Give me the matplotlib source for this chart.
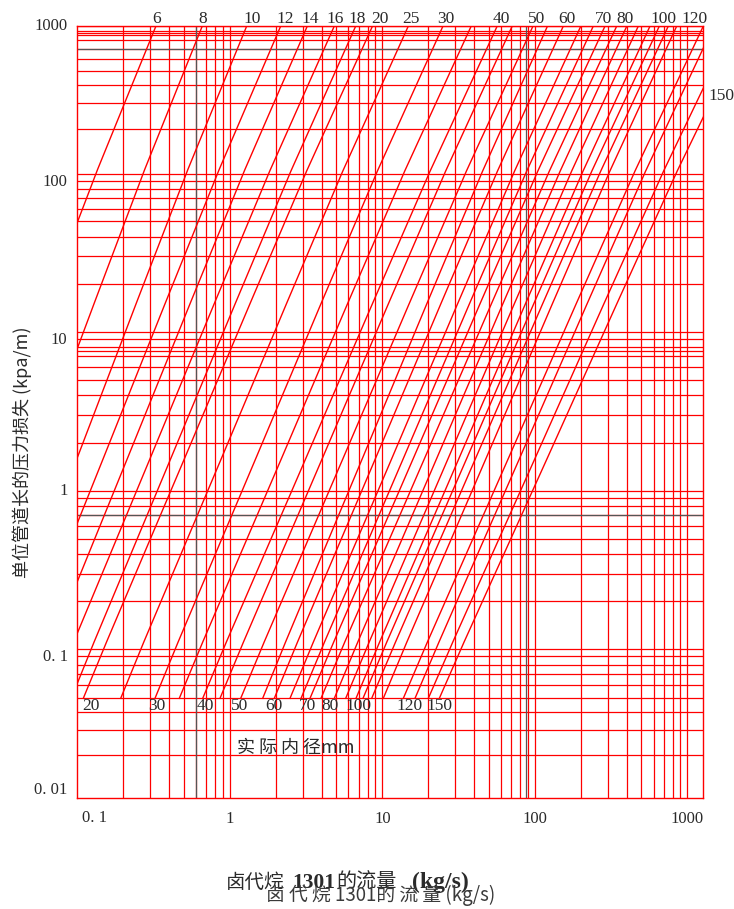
import numpy as np
import matplotlib
matplotlib.use("Agg")
import matplotlib.pyplot as plt

# ---- chart data -------------------------------------------------------------
# each pipe line runs from 0.05 kPa/m up to 1000 kPa/m (clipped by the frame);
# flow (kg/s) of every line at those two pressure-loss levels
flow_at_floor = [0.00656, 0.01394, 0.02506, 0.03497, 0.04935, 0.06714, 0.09127,
                 0.1095, 0.1926, 0.3232, 0.4665, 0.6643, 0.8625, 1.179, 1.643,
                 1.958, 2.482, 2.931, 3.357, 3.963, 4.844, 5.754, 6.723, 7.470,
                 8.520, 10.15, 13.73, 16.38, 20.03, 23.65]
flow_at_top = [0.328, 0.660, 1.291, 2.157, 3.223, 4.844, 6.693,
               8.625, 14.81, 25.00, 38.28, 56.67, 71.10, 97.3, 121.1,
               153.8, 200.3, 241.8, 288.6, 344.4, 401.1, 477.1, 569.3, 655.3,
               750.5, 852.0, 1273, 1488, 1993, 2475]
loss_floor, loss_top = 0.05, 1000.0

top_labels = ["6", "8", "10", "12", "14", "16", "18", "20", "25", "30",
              "40", "50", "60", "70", "80", "100", "120"]
bottom_labels = ["20", "30", "40", "50", "60", "70", "80", "100", "120", "150"]

x_ticks = [0.1, 1, 10, 100, 1000]
x_tick_labels = ["0. 1", "1", "10", "100", "1000"]
y_ticks = [1000, 100, 10, 1, 0.1, 0.01]
y_tick_labels = ["1000", "100", "10", "1", "0. 1", "0. 01"]

x_rules = ([m * 0.1 for m in range(2, 10)] + list(range(1, 10)) +
           list(range(10, 100, 10)) + list(range(100, 1001, 100)))
y_rules = ([m * 0.01 for m in range(2, 10)] + [m * 0.1 for m in range(1, 10)] +
           list(range(1, 10)) + list(range(10, 100, 10)) +
           list(range(100, 1001, 100)) + [7.6, 930, 870])
x_dark_rules = [0.6, 88]
y_dark_rules = [700, 0.7]

# ---- uneven decade spacing of the printed pressure scale -----------------
_dec_log = np.log10([0.01, 0.05, 0.1, 1, 10, 100, 1000])
_dec_pos = np.array([0.0, 100.0, 149.3, 307.3, 466.6, 624.3, 772.3])


def _extrap(v, xp, fp):
    v = np.asarray(v, dtype=float)
    out = np.interp(v, xp, fp)
    lo_s = (fp[1] - fp[0]) / (xp[1] - xp[0])
    hi_s = (fp[-1] - fp[-2]) / (xp[-1] - xp[-2])
    out = np.where(v < xp[0], fp[0] + (v - xp[0]) * lo_s, out)
    out = np.where(v > xp[-1], fp[-1] + (v - xp[-1]) * hi_s, out)
    return out


def _fwd(v):
    v = np.asarray(v, dtype=float)
    with np.errstate(divide="ignore", invalid="ignore"):
        lv = np.log10(np.where(v > 0, v, np.nan))
    return _extrap(lv, _dec_log, _dec_pos)


def _inv(p):
    return 10 ** _extrap(p, _dec_pos, _dec_log)


# ---- figure -----------------------------------------------------------------
RED = "#ff0000"
INK = "#2a2a2a"
SERIF = ["Liberation Serif", "DejaVu Serif"]
CJK = ["Noto Sans CJK SC", "DejaVu Sans"]
W, H = 734, 909

fig = plt.figure(figsize=(W / 100, H / 100), dpi=100)
ax = fig.add_axes([77.3 / W, 1 - 798.3 / H, (703.3 - 77.3) / W, (798.3 - 26) / H])
ax.set_xscale("log")
ax.set_yscale("function", functions=(_fwd, _inv))
ax.set_xlim(0.1, 1272)
ax.set_ylim(0.01, 1000)

for v in x_rules:
    ax.axvline(v, color=RED, lw=0.9, zorder=1)
for v in y_rules:
    ax.axhline(v, color=RED, lw=0.9, zorder=1)
for v in x_dark_rules:
    ax.axvline(v, color="#555555", lw=0.9, zorder=1.5)
for v in y_dark_rules:
    ax.axhline(v, color="#555555", lw=0.9, zorder=1.5)

for q_lo, q_hi in zip(flow_at_floor, flow_at_top):
    n = np.log(loss_top / loss_floor) / np.log(q_hi / q_lo)
    q = np.logspace(np.log10(q_lo), np.log10(q_hi), 400)
    dp = loss_floor * (q / q_lo) ** n
    ax.plot(q, dp, color=RED, lw=1.0, zorder=2)

for s in ax.spines.values():
    s.set_color(RED)
    s.set_linewidth(1.0)

ax.set_xticks(x_ticks[1:])
ax.set_xticklabels(x_tick_labels[1:], fontfamily=SERIF, fontsize=12, color=INK)
ax.set_yticks(y_ticks)
ax.set_yticklabels(y_tick_labels, fontfamily=SERIF, fontsize=12, color=INK)
ax.tick_params(axis="x", length=0, pad=9)
ax.tick_params(axis="y", length=0, pad=7)
ax.xaxis.set_minor_locator(matplotlib.ticker.NullLocator())
ax.yaxis.set_minor_locator(matplotlib.ticker.NullLocator())

for lab, va in zip(ax.get_yticklabels(), ["center", "top", "top", "center", "top", "bottom"]):
    lab.set_va(va)

# first flow label sits just inside the left edge
ax.annotate(x_tick_labels[0], xy=(x_ticks[0], 0), xycoords=ax.get_xaxis_transform(),
            xytext=(5, -12), textcoords="offset pixels", ha="left", va="top",
            fontfamily=SERIF, fontsize=12, color=INK, annotation_clip=False)

# diameter labels
top_x = [157, 203, 252, 285, 310, 335, 357, 380, 411, 446, 501, 537, 567, 603, 625, 663, 695]
for lab, px in zip(top_labels, top_x):
    fig.text(px / W, 1 - 19 / H, lab, ha="center", va="center",
             fontfamily=SERIF, fontsize=12.5, color=INK)
fig.text(721 / W, 1 - 96 / H, "150", ha="center", va="center",
         fontfamily=SERIF, fontsize=12.5, color=INK)
bot_x = [91, 157, 205, 240, 274, 307, 330, 358, 410, 439]
for lab, px in zip(bottom_labels, bot_x):
    fig.text(px / W, 1 - 706 / H, lab, ha="center", va="center",
             fontfamily=SERIF, fontsize=12.5, color=INK)

fig.text(296 / W, 1 - 748 / H, "实 际 内 径mm", ha="center", va="center",
         fontfamily=CJK, fontsize=13, color=INK)

fig.text(22 / W, 1 - 452 / H, "单位管道长的压力损失 (kpa/m)", rotation=90,
         ha="center", va="center", fontfamily=CJK, fontsize=13, color=INK)

# flow-axis title, printed twice (bold figures in the upper copy)
title_parts = [(226, "卤代烷", CJK, "normal", 14),
               (292, "1301", SERIF, "bold", 15.5),
               (336, "的流量", CJK, "normal", 14.5),
               (412, "(kg/s)", SERIF, "bold", 17)]
for px, txt, fam, wt, fs in title_parts:
    fig.text(px / W, 1 - 888 / H, txt, ha="left", va="baseline",
             fontfamily=fam, fontweight=wt, fontsize=fs, color=INK)

fig.text(381 / W, 1 - 895 / H, "卤 代 烷 1301的 流 量 (kg/s)", ha="center", va="center",
         fontfamily=CJK, fontsize=13.5, color="#3a3a3a")

fig.savefig("out.png", dpi=100)
